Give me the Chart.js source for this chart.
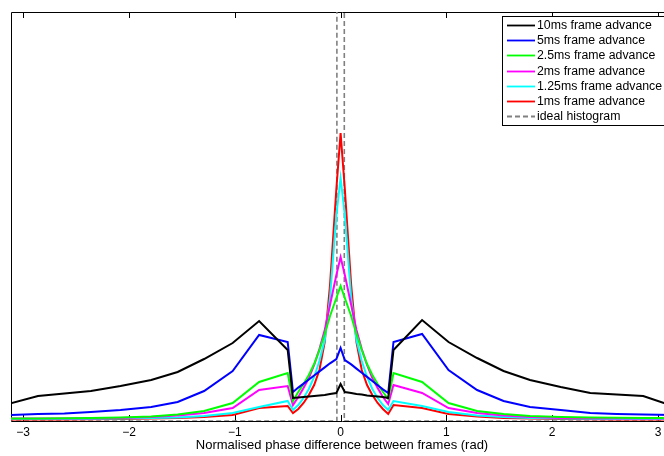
<!DOCTYPE html>
<html>
<head>
<meta charset="utf-8">
<script src="https://cdn.jsdelivr.net/npm/chart.js@4"></script>
<style>
  html, body { margin: 0; padding: 0; overflow: hidden; background: #fff; }
  #wrap { width: 680px; height: 456px; }
</style>
</head>
<body>
<div id="wrap"><canvas id="chart" width="680" height="456"></canvas></div>
<script>
// phase positions (rad) where the histograms were sampled
const phase = [-3.14, -2.86, -2.61, -2.36, -2.08, -1.79, -1.54, -1.29, -1.02, -0.77, -0.5,
  -0.45, -0.4, -0.35, -0.3, -0.25, -0.2, -0.15, -0.1, -0.04, 0,
  0.04, 0.1, 0.15, 0.2, 0.25, 0.3, 0.35, 0.4, 0.45,
  0.5, 0.77, 1.02, 1.29, 1.54, 1.79, 2.08, 2.36, 2.61, 2.86, 3.14];

const adv10 = [17, 25, 27.5, 30, 35, 41, 49, 62, 78, 100, 71,
  23, 23.5, 24, 24.5, 25, 25.5, 26, 27, 28, 37,
  29, 28, 27, 26.5, 25.5, 25, 24.5, 24, 23,
  71, 101, 79, 63, 50, 41, 34, 28, 26.5, 25, 15];
const adv5 = [6, 7, 7.5, 9, 11, 14, 19, 30, 50, 86, 79,
  29, 33.4, 37.4, 41.5, 45.5, 49.6, 53.6, 57.7, 62, 73,
  61, 56.6, 52.4, 48.3, 44.1, 40, 35.8, 31.6, 28,
  79, 87, 51, 31, 20, 14, 11, 8, 7, 6.5, 6];
const adv2_5 = [2.5, 2.5, 2.7, 3, 3.5, 4.5, 6.5, 10, 18, 39, 48,
  20, 29, 37, 46, 57, 71, 87, 105, 123, 135,
  123, 105, 87, 71, 57, 46, 37, 29, 22,
  48, 39, 18, 10, 7, 5, 4, 3.5, 3.2, 3, 3];
const adv2 = [2.5, 2.5, 2.6, 2.7, 3, 4, 5.5, 8, 13, 31, 35,
  16, 24, 33, 43, 56, 72, 91, 116, 146, 164,
  146, 116, 91, 72, 56, 43, 33, 24, 17,
  36, 28, 13, 8, 5.5, 4, 3, 2.7, 2.6, 2.5, 2.5];
const adv1_25 = [2, 2, 2, 2.2, 2.5, 3, 3.5, 5, 8, 14, 20,
  11, 16, 23, 32, 44, 60, 81, 123, 206, 243,
  206, 123, 81, 60, 44, 32, 23, 16, 11,
  20, 15, 9, 5.5, 4, 3, 2.5, 2.2, 2, 2, 2];
const adv1 = [1.5, 1.5, 1.5, 1.7, 2, 2.4, 3, 4, 6, 13, 15,
  8, 12, 18, 26, 36, 51, 79, 136, 232, 288,
  232, 136, 79, 51, 36, 26, 18, 12, 7,
  16, 13, 7, 4.5, 3, 2.4, 2, 1.7, 1.5, 1.5, 1.5];

// ideal histogram: a single bin round zero
const idealX = [-3.1416, -0.035, -0.035, 0.035, 0.035, 3.1416];
const idealY = [0, 0, 2000, 2000, 0, 0];

const xTicks = [-3, -2, -1, 0, 1, 2, 3];

const pts = (xs, ys) => xs.map((x, i) => ({ x: x, y: ys[i] }));

const FONT = 'Liberation Sans, Arial, Helvetica, sans-serif';

const line = (label, ys, color) => ({
  label: label,
  data: pts(phase, ys),
  borderColor: color,
  borderWidth: 2,
  pointRadius: 0,
  tension: 0,
  fill: false
});

// box round the axes, ticks pointing in
const frame = {
  id: 'frame',
  beforeDatasetsDraw(chart) {
    const { ctx, chartArea: a, scales } = chart;
    ctx.save();
    ctx.strokeStyle = '#000';
    ctx.lineWidth = 1;
    ctx.beginPath();
    ctx.moveTo(a.left + 0.5, a.bottom + 0.5);
    ctx.lineTo(a.left + 0.5, a.top + 0.5);
    ctx.lineTo(a.right + 0.5, a.top + 0.5);
    ctx.lineTo(a.right + 0.5, a.bottom + 0.5);
    ctx.closePath();
    ctx.stroke();
    for (const v of xTicks) {
      const px = Math.round(scales.x.getPixelForValue(v)) + 0.5;
      ctx.beginPath();
      ctx.moveTo(px, a.bottom);
      ctx.lineTo(px, a.bottom - 6);
      ctx.moveTo(px, a.top);
      ctx.lineTo(px, a.top + 6);
      ctx.stroke();
    }
    ctx.restore();
  }
};

// matlab style legend box, top right inside the axes
const boxLegend = {
  id: 'boxLegend',
  afterDraw(chart) {
    const ctx = chart.ctx;
    const sets = chart.data.datasets;
    const left = 502, top = 16, rowH = 15.2;
    ctx.save();
    ctx.fillStyle = '#fff';
    ctx.fillRect(left, top, 168, 109);
    ctx.strokeStyle = '#000';
    ctx.lineWidth = 1;
    ctx.strokeRect(left + 0.5, top + 0.5, 168, 109);
    ctx.font = '12.3px ' + FONT;
    ctx.textBaseline = 'middle';
    sets.forEach((ds, i) => {
      const y = Math.round(top + 9 + i * rowH) + 0.5;
      ctx.strokeStyle = ds.borderColor;
      ctx.lineWidth = 1.8;
      ctx.setLineDash(ds.borderDash || []);
      ctx.beginPath();
      ctx.moveTo(left + 5, y);
      ctx.lineTo(left + 33, y);
      ctx.stroke();
      ctx.setLineDash([]);
      ctx.fillStyle = '#000';
      ctx.fillText(ds.label, left + 35, y);
    });
    ctx.restore();
  }
};

new Chart(document.getElementById('chart'), {
  type: 'line',
  data: {
    datasets: [
      line('10ms frame advance', adv10, '#000000'),
      line('5ms frame advance', adv5, '#0000ff'),
      line('2.5ms frame advance', adv2_5, '#00ff00'),
      line('2ms frame advance', adv2, '#ff00ff'),
      line('1.25ms frame advance', adv1_25, '#00ffff'),
      line('1ms frame advance', adv1, '#ff0000'),
      {
        label: 'ideal histogram',
        data: pts(idealX, idealY),
        borderColor: '#808080',
        borderWidth: 1.6,
        borderDash: [5, 3],
        pointRadius: 0,
        tension: 0,
        fill: false
      }
    ]
  },
  options: {
    responsive: false,
    animation: false,
    devicePixelRatio: 1,
    layout: { padding: { left: 11, top: 12, right: 7, bottom: 0 } },
    plugins: { legend: { display: false }, tooltip: { enabled: false } },
    scales: {
      x: {
        type: 'linear',
        min: -3.115,
        max: Math.PI,
        afterBuildTicks: (s) => { s.ticks = xTicks.map(v => ({ value: v })); },
        afterFit: (s) => { s.height = 35; },
        grid: { display: false, drawTicks: false },
        border: { display: false },
        ticks: {
          autoSkip: false,
          maxRotation: 0,
          padding: 4,
          color: '#000',
          font: { family: FONT, size: 12 },
          callback: (v) => String(v).replace('-', '\u2212')
        },
        title: {
          display: true,
          text: 'Normalised phase difference between frames (rad)',
          color: '#000',
          font: { family: FONT, size: 13 },
          padding: { top: 0, bottom: 3 }
        }
      },
      y: { display: false, min: 0, max: 409 }
    }
  },
  plugins: [frame, boxLegend]
});
</script>
</body>
</html>
